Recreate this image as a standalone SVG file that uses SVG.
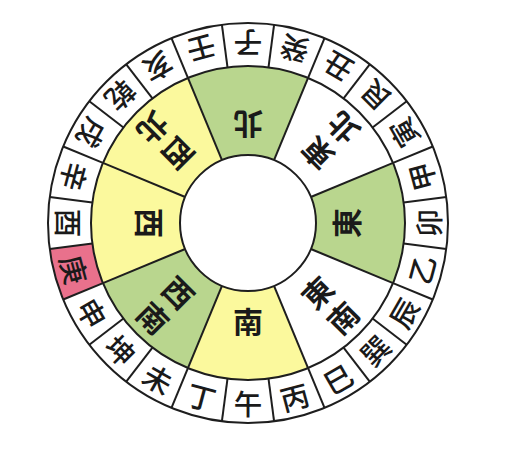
<svg xmlns="http://www.w3.org/2000/svg" xmlns:xlink="http://www.w3.org/1999/xlink" width="506" height="455" viewBox="0 0 506 455">
<style>
.ln{stroke:#1e1e1e;stroke-width:2;fill:none}
.t{font-family:"Noto Sans CJK TC","Noto Sans CJK SC",sans-serif;fill:#1a1a1a;text-anchor:middle;dominant-baseline:central}
.o{font-size:28.5px;font-weight:500}
.i{font-size:30px;font-weight:700}
.g{fill:#b9d68e}
.y{fill:#fbf99d}
.w{fill:#ffffff}
.p{fill:#e9718c}
</style>
<defs>
<path id="sec" d="M187.919,77.951 A157,157 0 0 1 308.081,77.951 L274.022,160.176 A68,68 0 0 0 221.978,160.176 Z"/>
<path id="seg" d="M221.895,24.711 A200,200 0 0 1 274.105,24.711 L268.493,67.343 A157,157 0 0 0 227.507,67.343 Z"/>
</defs>
<rect width="506" height="455" fill="#ffffff"/>
<circle cx="248" cy="223" r="200" fill="#ffffff"/>
<g id="sector-bei"><use xlink:href="#sec" class="g"/><text class="t i" x="248" y="320" transform="rotate(-180 248 223)">北</text></g>
<g id="sector-dongbei"><use xlink:href="#sec" class="w" transform="rotate(45 248 223)"/><text class="t i" transform="rotate(-135 248 223)"><tspan x="248" y="320">東</tspan><tspan x="248" y="356">北</tspan></text></g>
<g id="sector-dong"><use xlink:href="#sec" class="g" transform="rotate(90 248 223)"/><text class="t i" x="248" y="320" transform="rotate(-90 248 223)">東</text></g>
<g id="sector-dongnan"><use xlink:href="#sec" class="w" transform="rotate(135 248 223)"/><text class="t i" transform="rotate(-45 248 223)"><tspan x="248" y="320">東</tspan><tspan x="248" y="356">南</tspan></text></g>
<g id="sector-nan"><use xlink:href="#sec" class="y" transform="rotate(180 248 223)"/><text class="t i" x="248" y="320">南</text></g>
<g id="sector-xinan"><use xlink:href="#sec" class="g" transform="rotate(225 248 223)"/><text class="t i" transform="rotate(45 248 223)"><tspan x="248" y="320">西</tspan><tspan x="248" y="356">南</tspan></text></g>
<g id="sector-xi"><use xlink:href="#sec" class="y" transform="rotate(270 248 223)"/><text class="t i" x="248" y="320" transform="rotate(90 248 223)">西</text></g>
<g id="sector-xibei"><use xlink:href="#sec" class="y" transform="rotate(315 248 223)"/><text class="t i" transform="rotate(135 248 223)"><tspan x="248" y="320">西</tspan><tspan x="248" y="356">北</tspan></text></g>
<g id="ring">
<g id="m-zi"><text class="t o" x="248" y="402" transform="rotate(-180 248 223)">子</text></g>
<g id="m-gui"><text class="t o" x="248" y="402" transform="rotate(-165 248 223)">癸</text></g>
<g id="m-chou"><text class="t o" x="248" y="402" transform="rotate(-150 248 223)">丑</text></g>
<g id="m-gen"><text class="t o" x="248" y="402" transform="rotate(-135 248 223)">艮</text></g>
<g id="m-yin"><text class="t o" x="248" y="402" transform="rotate(-120 248 223)">寅</text></g>
<g id="m-jia"><text class="t o" x="248" y="402" transform="rotate(-105 248 223)">甲</text></g>
<g id="m-mao"><text class="t o" x="248" y="402" transform="rotate(-90 248 223)">卯</text></g>
<g id="m-yi"><text class="t o" x="248" y="402" transform="rotate(-75 248 223)">乙</text></g>
<g id="m-chen"><text class="t o" x="248" y="402" transform="rotate(-60 248 223)">辰</text></g>
<g id="m-xun"><text class="t o" x="248" y="402" transform="rotate(-45 248 223)">巽</text></g>
<g id="m-si"><text class="t o" x="248" y="402" transform="rotate(-30 248 223)">巳</text></g>
<g id="m-bing"><text class="t o" x="248" y="402" transform="rotate(-15 248 223)">丙</text></g>
<g id="m-wu"><text class="t o" x="248" y="402">午</text></g>
<g id="m-ding"><text class="t o" x="248" y="402" transform="rotate(15 248 223)">丁</text></g>
<g id="m-wei"><text class="t o" x="248" y="402" transform="rotate(30 248 223)">未</text></g>
<g id="m-kun"><text class="t o" x="248" y="402" transform="rotate(45 248 223)">坤</text></g>
<g id="m-shen"><text class="t o" x="248" y="402" transform="rotate(60 248 223)">申</text></g>
<g id="m-geng"><use xlink:href="#seg" class="p" transform="rotate(255 248 223)"/><text class="t o" x="248" y="402" transform="rotate(75 248 223)">庚</text></g>
<g id="m-you"><text class="t o" x="248" y="402" transform="rotate(90 248 223)">酉</text></g>
<g id="m-xin"><text class="t o" x="248" y="402" transform="rotate(105 248 223)">辛</text></g>
<g id="m-xu"><text class="t o" x="248" y="402" transform="rotate(120 248 223)">戌</text></g>
<g id="m-qian"><text class="t o" x="248" y="402" transform="rotate(135 248 223)">乾</text></g>
<g id="m-hai"><text class="t o" x="248" y="402" transform="rotate(150 248 223)">亥</text></g>
<g id="m-ren"><text class="t o" x="248" y="402" transform="rotate(165 248 223)">壬</text></g>
</g>
<g id="connectors" class="ln">
<line x1="248" y1="23" x2="248" y2="66" transform="rotate(7.5 248 223)"/>
<line x1="248" y1="23" x2="248" y2="66" transform="rotate(22.5 248 223)"/>
<line x1="248" y1="23" x2="248" y2="66" transform="rotate(37.5 248 223)"/>
<line x1="248" y1="23" x2="248" y2="66" transform="rotate(52.5 248 223)"/>
<line x1="248" y1="23" x2="248" y2="66" transform="rotate(67.5 248 223)"/>
<line x1="248" y1="23" x2="248" y2="66" transform="rotate(82.5 248 223)"/>
<line x1="248" y1="23" x2="248" y2="66" transform="rotate(97.5 248 223)"/>
<line x1="248" y1="23" x2="248" y2="66" transform="rotate(112.5 248 223)"/>
<line x1="248" y1="23" x2="248" y2="66" transform="rotate(127.5 248 223)"/>
<line x1="248" y1="23" x2="248" y2="66" transform="rotate(142.5 248 223)"/>
<line x1="248" y1="23" x2="248" y2="66" transform="rotate(157.5 248 223)"/>
<line x1="248" y1="23" x2="248" y2="66" transform="rotate(172.5 248 223)"/>
<line x1="248" y1="23" x2="248" y2="66" transform="rotate(187.5 248 223)"/>
<line x1="248" y1="23" x2="248" y2="66" transform="rotate(202.5 248 223)"/>
<line x1="248" y1="23" x2="248" y2="66" transform="rotate(217.5 248 223)"/>
<line x1="248" y1="23" x2="248" y2="66" transform="rotate(232.5 248 223)"/>
<line x1="248" y1="23" x2="248" y2="66" transform="rotate(247.5 248 223)"/>
<line x1="248" y1="23" x2="248" y2="66" transform="rotate(262.5 248 223)"/>
<line x1="248" y1="23" x2="248" y2="66" transform="rotate(277.5 248 223)"/>
<line x1="248" y1="23" x2="248" y2="66" transform="rotate(292.5 248 223)"/>
<line x1="248" y1="23" x2="248" y2="66" transform="rotate(307.5 248 223)"/>
<line x1="248" y1="23" x2="248" y2="66" transform="rotate(322.5 248 223)"/>
<line x1="248" y1="23" x2="248" y2="66" transform="rotate(337.5 248 223)"/>
<line x1="248" y1="23" x2="248" y2="66" transform="rotate(352.5 248 223)"/>
<line x1="248" y1="66" x2="248" y2="155" transform="rotate(22.5 248 223)"/>
<line x1="248" y1="66" x2="248" y2="155" transform="rotate(67.5 248 223)"/>
<line x1="248" y1="66" x2="248" y2="155" transform="rotate(112.5 248 223)"/>
<line x1="248" y1="66" x2="248" y2="155" transform="rotate(157.5 248 223)"/>
<line x1="248" y1="66" x2="248" y2="155" transform="rotate(202.5 248 223)"/>
<line x1="248" y1="66" x2="248" y2="155" transform="rotate(247.5 248 223)"/>
<line x1="248" y1="66" x2="248" y2="155" transform="rotate(292.5 248 223)"/>
<line x1="248" y1="66" x2="248" y2="155" transform="rotate(337.5 248 223)"/>
</g>
<g id="frame" class="ln">
<circle cx="248" cy="223" r="200"/>
<circle cx="248" cy="223" r="157"/>
<circle cx="248" cy="223" r="68" fill="#ffffff"/>
</g>
</svg>
